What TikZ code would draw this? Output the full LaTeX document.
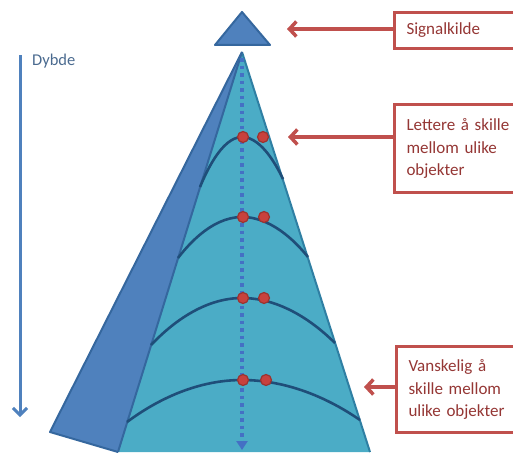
\documentclass[tikz,border=0pt]{standalone}
\usepackage{fontspec}
\setmainfont{Carlito}
\usetikzlibrary{arrows.meta}
\definecolor{aqua}{HTML}{4BACC6}
\definecolor{aquadark}{HTML}{2F7FA3}
\definecolor{steel}{HTML}{4F81BD}
\definecolor{steeldark}{HTML}{35679E}
\definecolor{navy}{HTML}{1F4E79}
\definecolor{boxred}{HTML}{C0504D}
\definecolor{dotred}{HTML}{C8413D}
\definecolor{dotrim}{HTML}{9B3330}
\definecolor{textred}{HTML}{953735}
\definecolor{dotblue}{HTML}{4470C4}
\definecolor{labelblue}{HTML}{4A6A8F}
\tikzset{
  infobox/.style={draw=boxred, line width=3pt, fill=white, anchor=north west,
    text width=108pt, inner xsep=12pt, align=left, text=textred,
    font=\fontsize{17}{22.5}\selectfont},
  redarr/.style={boxred, line width=3.5pt, -{Straight Barb[length=7pt,width=15pt]}},
  arcline/.style={navy, line width=2.6pt},
  reddot/.style={fill=dotred, draw=dotrim, line width=1.2pt},
  facedraw/.style={line width=2pt, line join=round},
}
\begin{document}
\begin{tikzpicture}[x=1pt,y=-1pt]
\useasboundingbox (0,0) rectangle (513,452);
% pyramid faces
\fill[steel] (242,52) -- (50,432) -- (118,452) -- cycle;
\draw[steeldark, facedraw] (118,452) -- (50,432) -- (242,52);
\fill[aqua] (242,52) -- (118,452) -- (370,452) -- cycle;
\draw[aquadark, facedraw] (242,52) -- (370,452);
\draw[steeldark, facedraw] (242,52) -- (118,452);
% arcs
\draw[arcline] (200,187) parabola bend (242,137) (283,179);
\draw[arcline] (178,258) parabola bend (242,217) (308,257);
\draw[arcline] (151,345) parabola bend (242,298) (335,343);
\draw[arcline] (127,422) parabola bend (242,380) (360,420);
% central dotted axis
\coordinate (axtop) at (242,58);
\coordinate (axbot) at (242,450);
\draw[dotblue, line width=3.5pt, dash pattern=on 3.5pt off 4pt,
  -{Triangle[length=9pt,width=11pt]}] (axtop) -- (axbot);
% red dots
\foreach \y/\xr in {137/263, 217/264, 298/264, 380/266}{
  \filldraw[reddot] (243,\y) circle (5.5pt);
  \filldraw[reddot] (\xr,\y) circle (5.5pt);
}
% signal source
\filldraw[fill=steel, draw=steeldark, facedraw] (242,12) -- (270,45) -- (215,45) -- cycle;
% depth arrow
\coordinate (dtop) at (20,55);
\coordinate (dbot) at (20,417);
\draw[steel, line width=3pt, -{Straight Barb[length=7pt,width=14pt]}] (dtop) -- (dbot);
\node[anchor=west, text=labelblue, font=\fontsize{16.5}{20}\selectfont, inner sep=0pt] (dlabel) at (32,61) {Dybde};
% boxes
\node[infobox, minimum height=36pt] (b1) at (393,11) {Signalkilde};
\node[infobox, minimum height=88pt] (b2) at (393,103) {Lettere å skille\\mellom ulike\\objekter};
\node[infobox, minimum height=86pt] (b3) at (395,345) {Vanskelig å\\skille mellom\\ulike objekter};
\coordinate (t1) at (287,29);
\coordinate (t2) at (288,137);
\coordinate (t3) at (364,387);
\draw[redarr] (b1.west |- t1) -- (t1);
\draw[redarr] (b2.west |- t2) -- (t2);
\draw[redarr] (b3.west |- t3) -- (t3);
\end{tikzpicture}
\end{document}
